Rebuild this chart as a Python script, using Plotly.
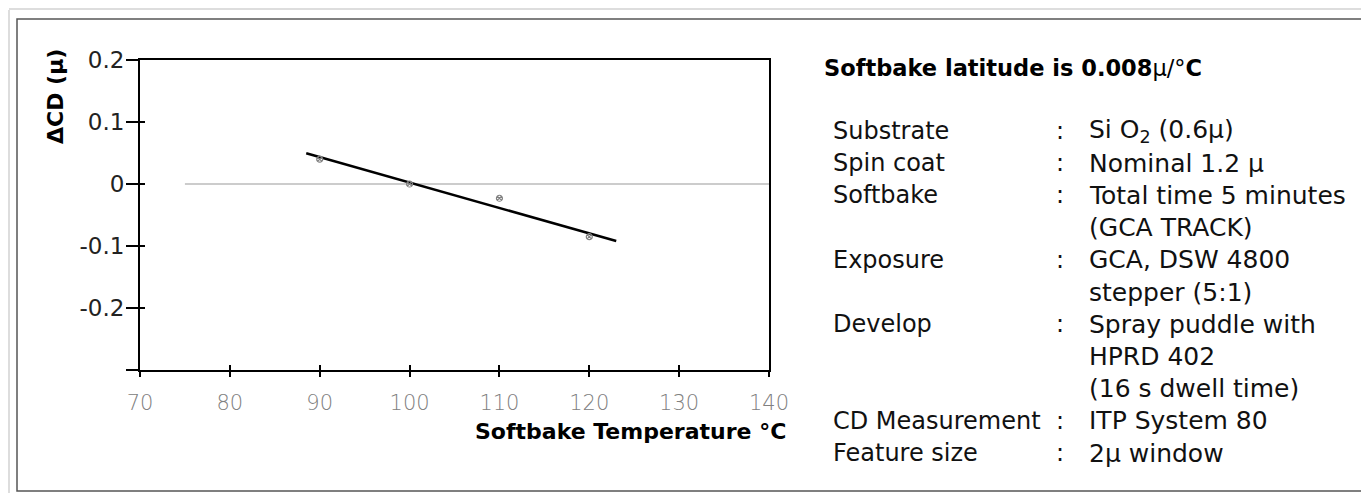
import plotly.graph_objects as go

# ---- data ----
temps = [90, 100, 110, 120]
delta_cd = [0.04, 0.0, -0.023, -0.085]
fit_x = [88.5, 123.0]
fit_y = [0.0495, -0.092]
x_ticks = [70, 80, 90, 100, 110, 120, 130, 140]
x_ticktext = ["70", "80", "90", "100", "110", "120", "130", "140"]
y_ticks = [0.2, 0.1, 0.0, -0.1, -0.2, -0.3]
y_ticktext = ["0.2", "0.1", "0", "-0.1", "-0.2", " "]

param_names = ["Substrate", "Spin coat", "Softbake", "Exposure", "Develop",
               "CD Measurement", "Feature size"]
param_values = [
    ["Si O<sub>2</sub> (0.6μ)"],
    ["Nominal 1.2 μ"],
    ["Total time 5 minutes", "(GCA TRACK)"],
    ["GCA, DSW 4800", "stepper (5:1)"],
    ["Spray puddle with", "HPRD 402", "(16 s dwell time)"],
    ["ITP System 80"],
    ["2μ window"],
]
panel_title = "<b>Softbake latitude is 0.008</b>μ/°<b>C</b>"

W, H = 1369, 494
OFF = 8  # page body margin
FONT = "DejaVu Sans"


def px(x):
    return (x - OFF) / W


def py(y):
    return 1 - (y - OFF) / H


fig = go.Figure()

# fitted line
fig.add_trace(go.Scatter(x=fit_x, y=fit_y, mode="lines",
                         line=dict(color="black", width=2.5),
                         showlegend=False, hoverinfo="skip"))
# measured points
fig.add_trace(go.Scatter(x=temps, y=delta_cd, mode="markers",
                         marker=dict(symbol="circle-x-open", size=6,
                                     color="#808080", line=dict(width=1.2, color="#808080")),
                         showlegend=False))

axis_common = dict(showgrid=False, zeroline=False, automargin=False)

fig.update_layout(
    width=W, height=H, autosize=False,
    margin=dict(l=0, r=0, t=0, b=0, pad=0, autoexpand=False),
    paper_bgcolor="white", plot_bgcolor="white",
    showlegend=False,
    xaxis=dict(domain=[px(140), px(769)], range=[70, 140],
               tickvals=x_ticks, ticktext=x_ticktext,
               ticks="outside", ticklen=5, tickwidth=2, tickcolor="black",
               showline=True, linewidth=2, linecolor="black", mirror=True,
               ticklabelstandoff=8,
               tickfont=dict(family=FONT, size=21, color="#808080", weight=300),
               **axis_common),
    yaxis=dict(domain=[py(370), py(60)], range=[-0.3, 0.2],
               tickvals=y_ticks, ticktext=y_ticktext,
               ticks="outside", ticklen=12, tickwidth=2, tickcolor="black",
               showline=True, linewidth=2, linecolor="black", mirror=True,
               ticklabelstandoff=-3,
               tickfont=dict(family=FONT, size=23, color="#222"),
               **axis_common),
    xaxis2=dict(overlaying="x", matches="x", anchor="y", side="bottom",
                range=[70, 140], tickvals=x_ticks, showticklabels=False,
                ticks="inside", ticklen=5, tickwidth=2, tickcolor="black",
                showline=False, **axis_common),
    yaxis2=dict(overlaying="y", matches="y", anchor="x", side="left",
                range=[-0.3, 0.2], tickvals=y_ticks, showticklabels=False,
                ticks="inside", ticklen=5, tickwidth=2, tickcolor="black",
                showline=False, **axis_common),
)
# dummy trace to activate the overlay axes
fig.add_trace(go.Scatter(x=[None], y=[None], xaxis="x2", yaxis="y2",
                         showlegend=False, hoverinfo="skip"))

shapes = [
    # zero reference line
    dict(type="line", xref="x", yref="y", x0=75, x1=140, y0=0, y1=0,
         line=dict(color="#999", width=1), layer="below"),
    # frame
    dict(type="rect", xref="paper", yref="paper",
         x0=px(17), x1=px(1362), y0=py(491), y1=py(19),
         line=dict(color="#555", width=1.5)),
    dict(type="line", xref="paper", yref="paper",
         x0=px(9), x1=px(9), y0=py(493), y1=py(10),
         line=dict(color="#bbb", width=1)),
    dict(type="line", xref="paper", yref="paper",
         x0=px(9), x1=px(1368), y0=py(9), y1=py(9),
         line=dict(color="#bbb", width=1)),
]
fig.update_layout(shapes=shapes)

ann = []
# axis titles
ann.append(dict(text="<b>ΔCD (μ)</b>", x=px(55), y=py(96), xref="paper", yref="paper",
                textangle=-90, showarrow=False, xanchor="center", yanchor="middle",
                font=dict(family=FONT, size=22, color="black")))
ann.append(dict(text="<b>Softbake Temperature °C</b>", x=px(788), y=py(431),
                xref="paper", yref="paper", showarrow=False,
                xanchor="right", yanchor="middle",
                font=dict(family=FONT, size=22, color="black")))
# panel title
ann.append(dict(text=panel_title, x=px(822), y=py(68), xref="paper", yref="paper",
                showarrow=False, xanchor="left", yanchor="middle",
                font=dict(family=FONT, size=22.5, color="black")))

# parameter table
row = 0
lfont = dict(family=FONT, size=24, color="#111")
vfont = dict(family=FONT, size=25, color="#111")
for name, vals in zip(param_names, param_values):
    yc = 131 + 32.2 * row
    ann.append(dict(text=name, x=px(831), y=py(yc), xref="paper", yref="paper",
                    showarrow=False, xanchor="left", yanchor="middle", font=lfont))
    ann.append(dict(text=":", x=px(1060), y=py(yc), xref="paper", yref="paper",
                    showarrow=False, xanchor="center", yanchor="middle", font=lfont))
    for v in vals:
        yv = 131 + 32.2 * row
        ann.append(dict(text=v, x=px(1087), y=py(yv), xref="paper", yref="paper",
                        showarrow=False, xanchor="left", yanchor="middle", font=vfont))
        row += 1

fig.update_layout(annotations=ann)

fig.write_html("out.html")
